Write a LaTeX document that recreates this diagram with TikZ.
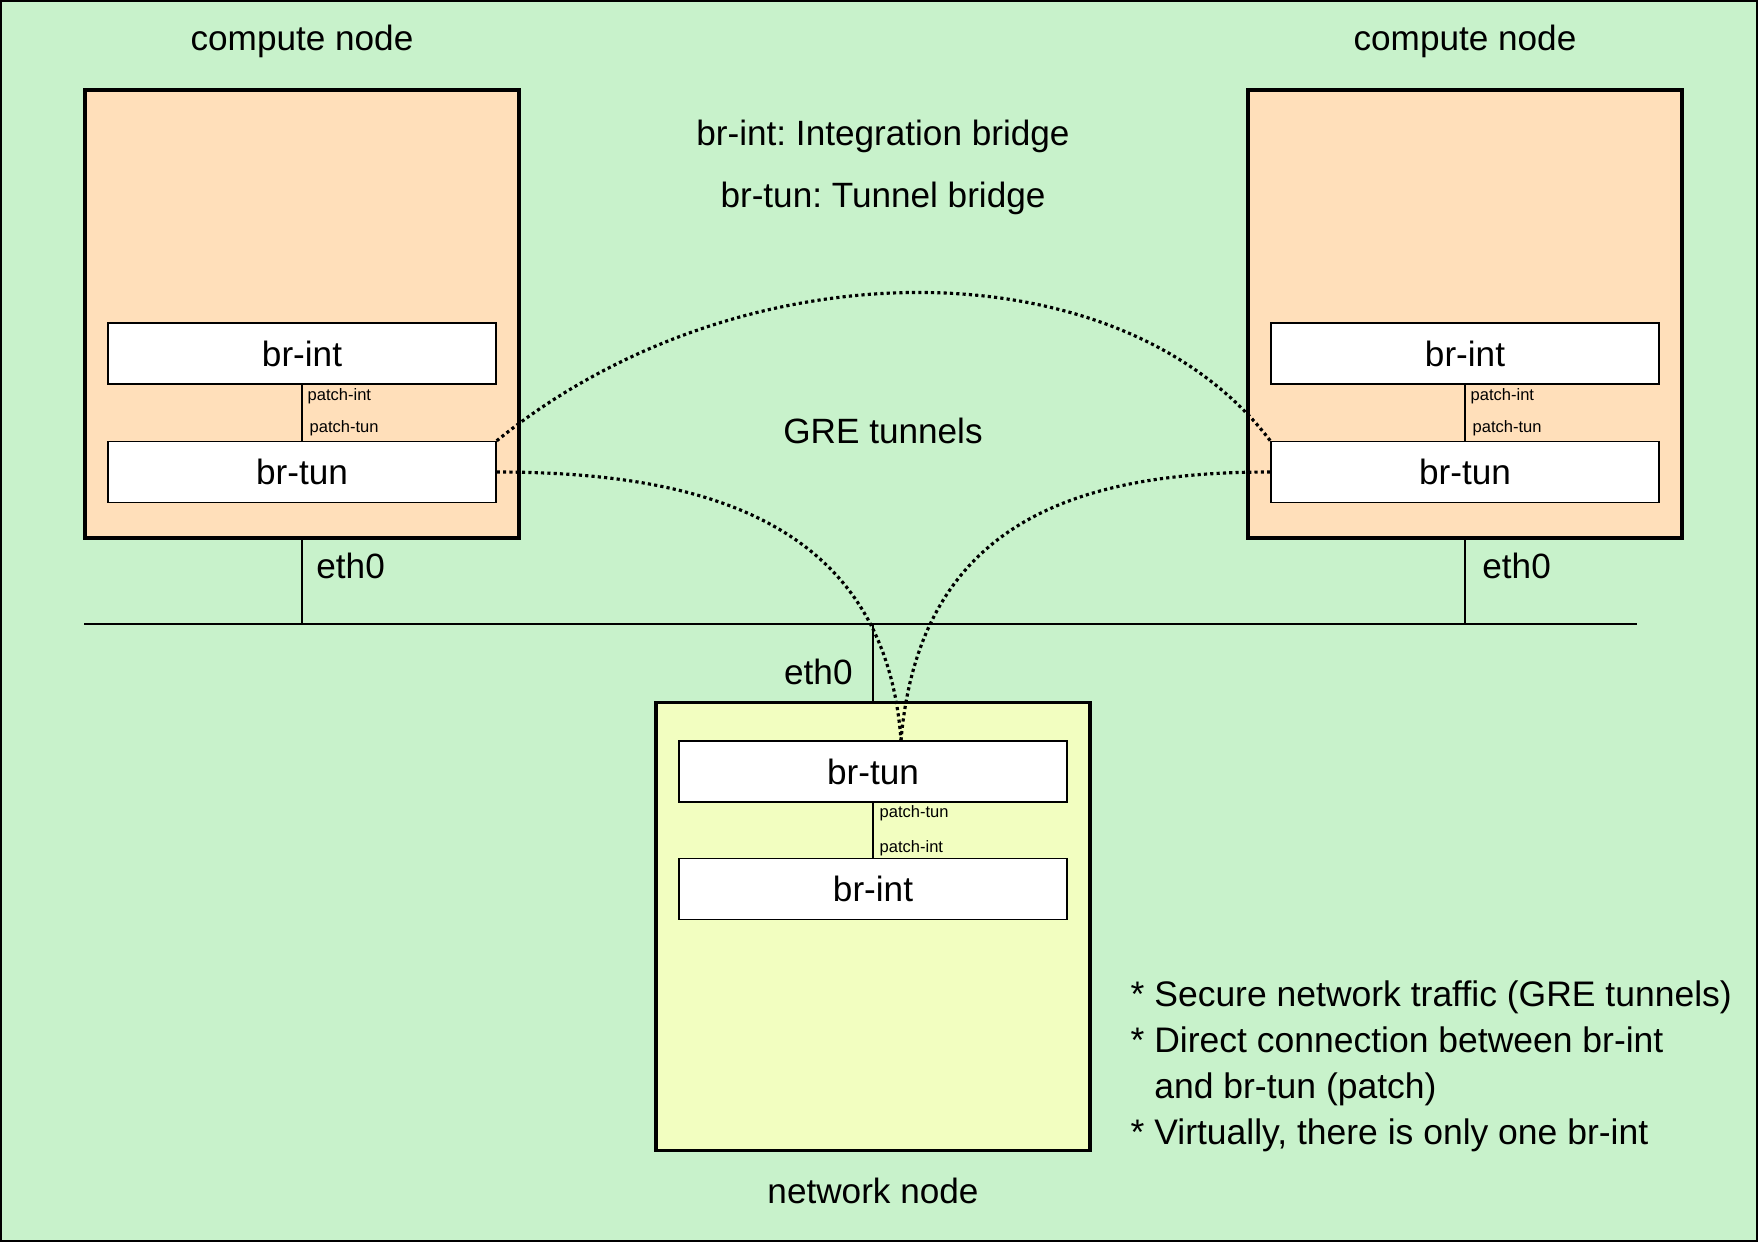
\documentclass[tikz,border=0pt]{standalone}
\usepackage{fontspec}
\setmainfont{Liberation Sans}
\frenchspacing
\definecolor{bggreen}{HTML}{C8F2CB}
\definecolor{hostpeach}{HTML}{FFDFBA}
\definecolor{netyellow}{HTML}{F2FEC0}
\begin{document}
\begin{tikzpicture}[x=0.1mm,y=-0.1mm]
	\tikzstyle{host} = [draw, line width=0.9pt, minimum width=43.4mm, minimum height=44.8mm];
	\tikzstyle{bridge} = [draw, fill=white, line width=0.4pt, minimum width=38.8mm, minimum height=6.1mm];
	\tikzstyle{port} = [font=\fontsize{4.7}{5}\selectfont, anchor=west, inner sep=0pt];
	\tikzstyle{plain} = [draw=none,fill=none];
	\tikzstyle{tunnel} = [line width=0.9pt, dash pattern=on 0.9pt off 0.9pt];
	\useasboundingbox (0,0) rectangle (1758,1242);
	\draw[fill=bggreen, line width=0.6pt] (1,1) rectangle (1757,1241);
	% the bus
	\coordinate (busL) at (84,624);
	\coordinate (busR) at (1637,624);
	\draw[line width=0.4pt] (busL) -- (busR);
	% compute nodes
	\foreach \x/\nm/\ex in {302/L/2,1465/R/5}
	{
		\node[host, fill=hostpeach, name=cn\nm] at (\x,314) {};
		\node[plain] at (\x,41) {compute node};
		\node[bridge, name=int\nm] at (\x,353.5) {br-int};
		\node[bridge, name=tun\nm] at (\x,472) {br-tun};
		\draw[line width=0.4pt] (int\nm.south) -- (tun\nm.north);
		\node[port] at (\x+5,396) {patch-int};
		\node[port] at (\x+7,428) {patch-tun};
		\draw[line width=0.4pt] (cn\nm.south) -- (cn\nm.south |- busL);
		\node[plain, anchor=west] at (\x+\ex,566) {eth0};
	}
	% network node
	\node[host, fill=netyellow] (nn) at (873,926.5) {};
	\node[plain] (nnlabel) at (873,1191) {network node};
	\node[bridge] (tunN) at (873,771.5) {br-tun};
	\node[bridge] (intN) at (873,889) {br-int};
	\draw[line width=0.4pt] (tunN.south) -- (intN.north);
	\node[port] at (879,813) {patch-tun};
	\node[port] at (879,848) {patch-int};
	\draw[line width=0.4pt] (nn.north) -- (nn.north |- busL);
	\node[plain, anchor=east] at (865,672) {eth0};
	% legend
	\node[plain] (lgint) at (883,136.5) {br-int: Integration bridge};
	\node[plain] (lgtun) at (883,198.5) {br-tun: Tunnel bridge};
	\node[plain] (gre) at (883,431) {GRE tunnels};
	% tunnels
	\draw[tunnel] (tunL.north east) .. controls (740,243) and (1120,243) .. (tunR.north west);
	\draw[tunnel] (tunL.east) .. controls (700,472) and (885,520) .. ([xshift=2.8mm]tunN.north);
	\draw[tunnel] (tunR.west) .. controls (1080,472) and (920,520) .. ([xshift=2.8mm]tunN.north);
	% notes
	\node[plain, anchor=north west, align=left, inner sep=0pt, font=\fontsize{10.1}{13.1}\selectfont] (notes) at (1130,980)
		{* Secure network traffic (GRE tunnels)\\
		 * Direct connection between br-int\\
		 \phantom{* }and br-tun (patch)\\
		 * Virtually, there is only one br-int};
\end{tikzpicture}
\end{document}
